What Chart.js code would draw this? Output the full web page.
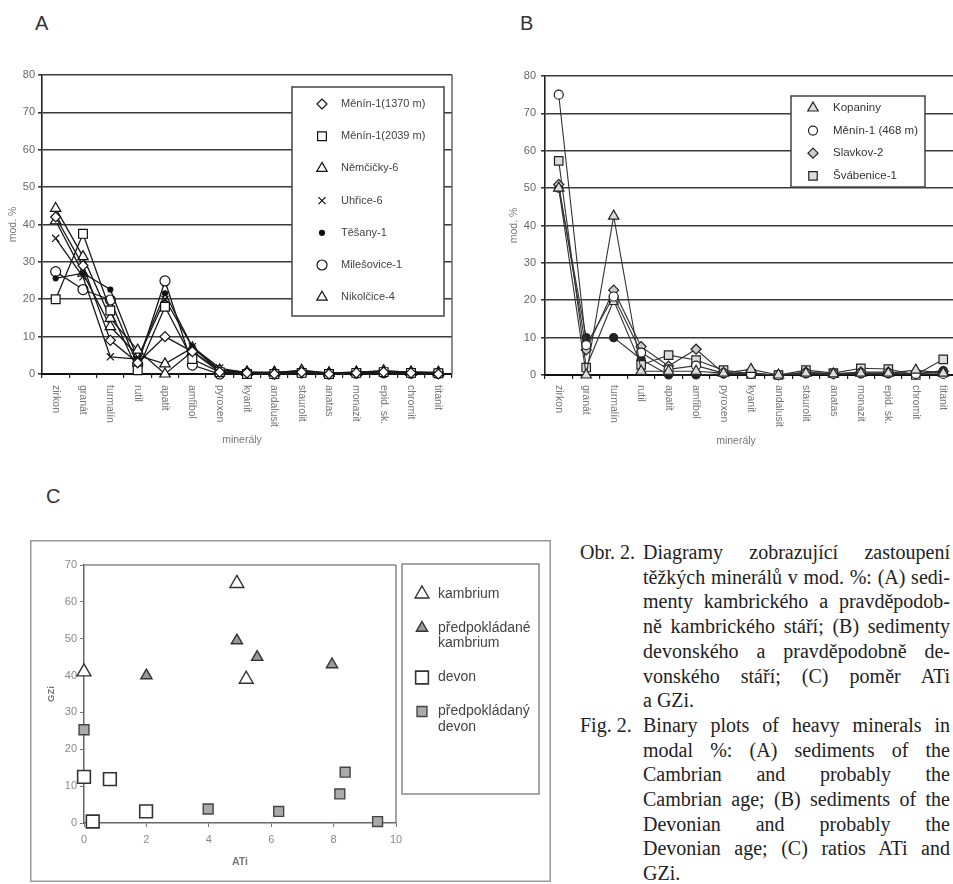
<!DOCTYPE html>
<html>
<head>
<meta charset="utf-8">
<script src="https://cdn.jsdelivr.net/npm/chart.js@4.4.1/dist/chart.umd.min.js"></script>
<style>
  html, body { margin: 0; padding: 0; background: #fff; }
  body { position: relative; width: 953px; height: 884px; overflow: hidden; }
  canvas { position: absolute; }
  .panel { position: absolute; font: 20px/20px 'Liberation Sans', Arial, sans-serif; color: #333; }
  #caption { position: absolute; left: 580px; top: 540px; width: 370px;
    font: 20px/24.7px 'Liberation Serif', 'Times New Roman', serif; color: #222; }
  .para { display: flex; }
  .para .lab { width: 63px; flex: none; }
  .para .txt { flex: 1; }
  .txt span { display: block; text-align: justify; text-align-last: justify; }
  .txt span.last { text-align-last: left; }
</style>
</head>
<body>
<div class="panel" style="left:35px;top:13px">A</div>
<div class="panel" style="left:520px;top:13px">B</div>
<div class="panel" style="left:46px;top:486px">C</div>

<canvas id="chartA" width="470" height="460" style="left:0;top:0"></canvas>
<canvas id="chartB" width="480" height="460" style="left:490px;top:0"></canvas>
<canvas id="chartC" width="521" height="342" style="left:30px;top:540px"></canvas>

<div id="caption">
  <div class="para"><div class="lab">Obr. 2.</div><div class="txt">
    <span>Diagramy zobrazující zastoupení</span>
    <span>těžkých minerálů v mod. %: (A) sedi-</span>
    <span>menty kambrického a pravděpodob-</span>
    <span>ně kambrického stáří; (B) sedimenty</span>
    <span>devonského a pravděpodobně de-</span>
    <span>vonského stáří; (C) poměr ATi</span>
    <span class="last">a GZi.</span>
  </div></div>
  <div class="para"><div class="lab">Fig. 2.</div><div class="txt">
    <span>Binary plots of heavy minerals in</span>
    <span>modal %: (A) sediments of the</span>
    <span>Cambrian and probably the</span>
    <span>Cambrian age; (B) sediments of the</span>
    <span>Devonian and probably the</span>
    <span>Devonian age; (C) ratios ATi and</span>
    <span class="last">GZi.</span>
  </div></div>
</div>

<script>
// mineral categories (x axis of A and B)
const minerals = ['zirkon', 'granát', 'turmalín', 'rutil', 'apatit', 'amfibol', 'pyroxen', 'kyanit',
  'andalusit', 'staurolit', 'anatas', 'monazit', 'epid. sk.', 'chromit', 'titanit'];

// A - kambrium
const namesA = ['Měnín-1(1370 m)', 'Měnín-1(2039 m)', 'Němčičky-6', 'Uhřice-6', 'Těšany-1', 'Milešovice-1', 'Nikolčice-4'];
const menin1370 = [42, 29, 9, 3, 10, 6, 0.5, 0.3, 0, 0.5, 0, 0.3, 0.5, 0.3, 0];
const menin2039 = [20, 37.5, 17, 1, 18, 4, 0.5, 0, 0, 0.3, 0, 0.3, 0.5, 0.3, 0.2];
const nemcicky6 = [44.3, 31.4, 14.9, 6.4, 0, 6, 1, 0.5, 0.3, 1, 0.2, 0.5, 0.8, 0.5, 0.3];
const uhrice6 = [36.3, 26, 4.6, 4, 20, 7.3, 1.6, 0.3, 0.2, 0.3, 0, 0.3, 0.5, 0.3, 0.3];
const tesany1 = [25.6, 27, 22.6, 4, 21.6, 7.3, 1, 0.3, 0.3, 0.5, 0.2, 0.3, 0.5, 0.5, 0.3];
const milesovice1 = [27.4, 22.6, 19.8, 2.4, 24.9, 2.4, 0, 0.2, 0, 0.3, 0, 0.2, 0.3, 0.2, 0.2];
const nikolcice4 = [41, 27, 12.7, 5, 2.7, 7, 1, 0.5, 0.5, 0.8, 0.3, 0.5, 0.8, 0.5, 0.5];
const valuesA = [menin1370, menin2039, nemcicky6, uhrice6, tesany1, milesovice1, nikolcice4];

// B - devon
const namesB = ['Kopaniny', 'Měnín-1 (468 m)', 'Slavkov-2', 'Švábenice-1', ''];
const kopaniny = [50, 0, 42.5, 1, 1, 1, 0.5, 1.5, 0, 0.5, 0.3, 0.5, 0.5, 1.3, 0.5];
const menin468 = [75, 8, 21, 6, 1.5, 2.5, 0.5, 0.3, 0, 0.5, 0.3, 0.5, 0.5, 0.3, 0.3];
const slavkov2 = [51, 6.7, 22.7, 7.6, 2.4, 6.9, 0.5, 0.5, 0, 0.8, 0.3, 0.8, 0.8, 0.3, 1];
const svabenice1 = [57.3, 2, 20, 2.7, 5.3, 4, 1.3, 0.3, 0, 1.3, 0.5, 1.8, 1.6, 0, 4.2];
const unnamedB = [50, 10, 10, 4.2, 0, 0, 0.3, 0.3, 0, 0.3, 0.3, 0.3, 0.3, 0.3, 1.2];
const valuesB = [kopaniny, menin468, slavkov2, svabenice1, unnamedB];

// C - ATi / GZi
const kambriumATi = [0, 4.9, 5.2];
const kambriumGZi = [41, 65, 39];
const kambriumPredATi = [2, 4.9, 5.55, 7.95];
const kambriumPredGZi = [40, 49.5, 45, 43];
const devonATi = [0, 0.83, 0.28, 1.99];
const devonGZi = [12.5, 11.9, 0.4, 3.15];
const devonPredATi = [0, 3.98, 6.24, 8.2, 8.37, 9.41];
const devonPredGZi = [25.3, 3.8, 3.15, 7.9, 13.8, 0.4];
const namesC = ['kambrium', 'předpokládané kambrium', 'devon', 'předpokládaný devon'];

Chart.defaults.font.family = "'Liberation Sans', Arial, sans-serif";

function wrapText(ctx, text, maxW) {
  const words = text.split(' ');
  const lines = [];
  let cur = '';
  words.forEach(w => {
    const t = cur ? cur + ' ' + w : w;
    if (cur && ctx.measureText(t).width > maxW) { lines.push(cur); cur = w; }
    else cur = t;
  });
  lines.push(cur);
  return lines;
}

// legend drawn inside a box, like the excel charts
const boxLegend = {
  id: 'boxLegend',
  afterDatasetsDraw(chart, args, o) {
    const ctx = chart.ctx;
    ctx.save();
    ctx.fillStyle = '#fff';
    ctx.fillRect(o.x, o.y, o.w, o.h);
    ctx.strokeStyle = o.borderColor;
    ctx.lineWidth = o.borderWidth;
    ctx.strokeRect(o.x, o.y, o.w, o.h);
    ctx.font = o.font;
    ctx.textBaseline = 'middle';
    ctx.textAlign = 'left';
    let y = o.firstRow;
    chart.data.datasets.forEach(ds => {
      if (!ds.label) return;
      ctx.fillStyle = ds.pointBackgroundColor;
      ctx.strokeStyle = ds.pointBorderColor;
      ctx.lineWidth = ds.pointBorderWidth;
      Chart.helpers.drawPoint(ctx, {
        pointStyle: ds.pointStyle, radius: ds.pointRadius, rotation: 0, borderWidth: ds.pointBorderWidth
      }, o.markerX, y);
      ctx.fillStyle = o.color;
      const lines = wrapText(ctx, ds.label, o.maxTextWidth);
      lines.forEach((ln, k) => ctx.fillText(ln, o.textX, y + k * o.lineHeight));
      y += o.rowStep + (lines.length - 1) * o.lineHeight;
    });
    ctx.restore();
  }
};

// category labels turned 90 deg clockwise + axis title
const downLabels = {
  id: 'downLabels',
  afterDraw(chart, args, o) {
    const ctx = chart.ctx;
    const x = chart.scales.x;
    ctx.save();
    ctx.font = o.font;
    ctx.fillStyle = o.color;
    ctx.textAlign = 'left';
    ctx.textBaseline = 'middle';
    x.ticks.forEach((t, i) => {
      ctx.save();
      ctx.translate(x.getPixelForTick(i), x.top + o.offset);
      ctx.rotate(Math.PI / 2);
      ctx.fillText(x.getLabelForValue(t.value), 0, 0);
      ctx.restore();
    });
    ctx.textAlign = 'center';
    ctx.fillText(o.title, o.titleX, o.titleY);
    ctx.restore();
  }
};

const frames = {
  id: 'frames',
  beforeDatasetsDraw(chart, args, o) {
    const {ctx, chartArea: a} = chart;
    ctx.save();
    ctx.strokeStyle = o.color;
    ctx.lineWidth = o.width;
    ctx.beginPath();
    if (o.top) { ctx.moveTo(a.left, a.top); ctx.lineTo(a.right, a.top); }
    if (o.right) { ctx.moveTo(a.right, a.top); ctx.lineTo(a.right, a.bottom); }
    ctx.stroke();
    if (o.outer) {
      ctx.strokeStyle = o.outerColor;
      ctx.lineWidth = o.outerWidth;
      ctx.strokeRect(o.outerWidth / 2, o.outerWidth / 2, chart.width - o.outerWidth, chart.height - o.outerWidth);
    }
    ctx.restore();
  }
};

function lineScales(yWidth, xHeight, titlePad) {
  return {
    x: {
      offset: true,
      grid: { offset: true, drawOnChartArea: false, drawTicks: true, tickLength: 4, color: '#222', lineWidth: 1.2 },
      border: { color: '#111', width: 2 },
      ticks: { display: false },
      afterFit: s => { s.height = xHeight; }
    },
    y: {
      min: 0, max: 80,
      ticks: { stepSize: 10, color: '#666', font: { size: 11 }, padding: yWidth > 50 ? 5 : 3 },
      grid: { color: '#3a3a3a', lineWidth: 1.6, tickLength: 4 },
      border: { color: '#222', width: 1.6 },
      title: { display: true, text: 'mod. %', color: '#777', font: { size: 10.5 }, padding: { top: titlePad } },
      afterFit: s => { s.width = yWidth; }
    }
  };
}

// ---------- A ----------
const stylesA = [
  { pointStyle: 'rectRot', pointRadius: 5, pointBackgroundColor: '#fff' },
  { pointStyle: 'rect', pointRadius: 6.2, pointBackgroundColor: '#fff' },
  { pointStyle: 'triangle', pointRadius: 6, pointBackgroundColor: '#fff' },
  { pointStyle: 'crossRot', pointRadius: 5, pointBackgroundColor: '#fff' },
  { pointStyle: 'circle', pointRadius: 2.5, pointBackgroundColor: '#111' },
  { pointStyle: 'circle', pointRadius: 5, pointBackgroundColor: '#fff' },
  { pointStyle: 'triangle', pointRadius: 6, pointBackgroundColor: '#fff' }
];

new Chart(document.getElementById('chartA'), {
  type: 'line',
  data: {
    labels: minerals,
    datasets: valuesA.map((vals, i) => Object.assign({
      label: namesA[i], data: vals, borderColor: '#1a1a1a', borderWidth: 1.3,
      pointBorderColor: '#111', pointBorderWidth: 1.2, tension: 0, fill: false, clip: false
    }, stylesA[i]))
  },
  options: {
    responsive: false, animation: false, devicePixelRatio: 1,
    layout: { padding: { left: 0, top: 75, right: 18, bottom: 0 } },
    plugins: {
      legend: { display: false }, tooltip: { enabled: false },
      frames: { right: true, color: '#666', width: 1.5 },
      boxLegend: { x: 292, y: 87, w: 152, h: 229, borderColor: '#444', borderWidth: 1.5,
        font: "11px 'Liberation Sans', Arial", color: '#444', markerX: 322, textX: 341,
        firstRow: 104, rowStep: 32.2, lineHeight: 13, maxTextWidth: 200 },
      downLabels: { font: "10.5px 'Liberation Sans', Arial", color: '#777', offset: 11,
        title: 'minerály', titleX: 242, titleY: 440 }
    },
    scales: lineScales(42, 86, 7)
  },
  plugins: [frames, boxLegend, downLabels]
});

// ---------- B ----------
const stylesB = [
  { pointStyle: 'triangle', pointRadius: 6, pointBackgroundColor: '#ddd' },
  { pointStyle: 'circle', pointRadius: 4.5, pointBackgroundColor: '#fff' },
  { pointStyle: 'rectRot', pointRadius: 5, pointBackgroundColor: '#ccc' },
  { pointStyle: 'rect', pointRadius: 6, pointBackgroundColor: '#ddd' },
  { pointStyle: 'circle', pointRadius: 4, pointBackgroundColor: '#222' }
];

new Chart(document.getElementById('chartB'), {
  type: 'line',
  data: {
    labels: minerals,
    datasets: valuesB.map((vals, i) => Object.assign({
      label: namesB[i], data: vals, borderColor: '#333', borderWidth: 1.1,
      pointBorderColor: '#222', pointBorderWidth: 1.2, tension: 0, fill: false, clip: false
    }, stylesB[i]))
  },
  options: {
    responsive: false, animation: false, devicePixelRatio: 1,
    layout: { padding: { left: 0, top: 76, right: 13, bottom: 0 } },
    plugins: {
      legend: { display: false }, tooltip: { enabled: false },
      boxLegend: { x: 301, y: 96, w: 134, h: 91, borderColor: '#444', borderWidth: 1.5,
        font: "11.5px 'Liberation Sans', Arial", color: '#333', markerX: 323, textX: 343,
        firstRow: 108, rowStep: 22.6, lineHeight: 13, maxTextWidth: 200 },
      downLabels: { font: "10.5px 'Liberation Sans', Arial", color: '#777', offset: 10,
        title: 'minerály', titleX: 246, titleY: 441 }
    },
    scales: lineScales(55, 85, 18)
  },
  plugins: [boxLegend, downLabels]
});

// ---------- C ----------
const toPoints = (xs, ys) => xs.map((x, i) => ({ x: x, y: ys[i] }));
const pointsC = [
  toPoints(kambriumATi, kambriumGZi),
  toPoints(kambriumPredATi, kambriumPredGZi),
  toPoints(devonATi, devonGZi),
  toPoints(devonPredATi, devonPredGZi)
];
const stylesC = [
  { pointStyle: 'triangle', pointRadius: 8, pointBackgroundColor: '#fff', pointBorderColor: '#333', pointBorderWidth: 1.4 },
  { pointStyle: 'triangle', pointRadius: 6.5, pointBackgroundColor: '#999', pointBorderColor: '#333', pointBorderWidth: 1.4 },
  { pointStyle: 'rect', pointRadius: 9, pointBackgroundColor: '#fff', pointBorderColor: '#333', pointBorderWidth: 1.6 },
  { pointStyle: 'rect', pointRadius: 7, pointBackgroundColor: '#aaa', pointBorderColor: '#444', pointBorderWidth: 1.4 }
];

new Chart(document.getElementById('chartC'), {
  type: 'scatter',
  data: {
    datasets: pointsC.map((pts, i) => Object.assign({ label: namesC[i], data: pts, clip: false }, stylesC[i]))
  },
  options: {
    responsive: false, animation: false, devicePixelRatio: 1,
    layout: { padding: { left: 0, top: 25, right: 155, bottom: 0 } },
    plugins: {
      legend: { display: false }, tooltip: { enabled: false },
      frames: { top: true, right: true, color: '#888', width: 1.5, outer: true, outerColor: '#999', outerWidth: 1.5 },
      boxLegend: { x: 372, y: 24, w: 137, h: 230, borderColor: '#888', borderWidth: 1.5,
        font: "14px 'Liberation Sans', Arial", color: '#444', markerX: 392, textX: 408,
        firstRow: 54, rowStep: 34, lineHeight: 15.5, maxTextWidth: 100 }
    },
    scales: {
      x: {
        type: 'linear', min: 0, max: 10,
        ticks: { stepSize: 2, color: '#888', font: { size: 11 }, padding: 6 },
        grid: { drawOnChartArea: false, tickLength: 4, color: '#777' },
        border: { color: '#666', width: 1.5 },
        title: { display: true, text: 'ATi', color: '#777', font: { size: 10.5, weight: 'bold' }, padding: { bottom: 14 } },
        afterFit: s => { s.height = 59; }
      },
      y: {
        min: 0, max: 70,
        ticks: { stepSize: 10, color: '#888', font: { size: 11 }, padding: 3 },
        grid: { drawOnChartArea: false, tickLength: 4, color: '#777' },
        border: { color: '#666', width: 1.5 },
        title: { display: true, text: 'GZi', color: '#777', font: { size: 9.5, weight: 'bold' }, padding: { top: 16 } },
        afterFit: s => { s.width = 54; }
      }
    }
  },
  plugins: [frames, boxLegend]
});
</script>
</body>
</html>
